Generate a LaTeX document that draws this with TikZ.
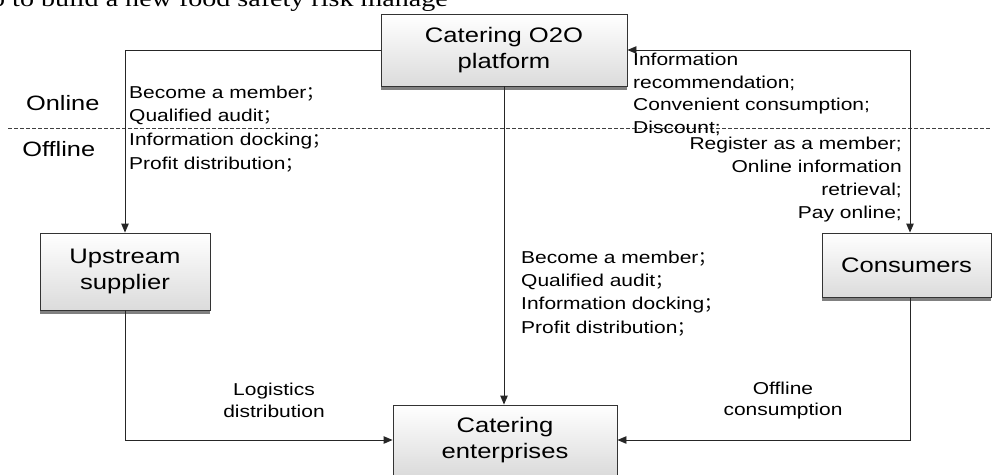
\documentclass[tikz,border=0pt]{standalone}
\usepackage{fontspec}
\setmainfont{Liberation Sans}[FakeStretch=1.22]
\newfontfamily\serifstretch{Liberation Serif}[FakeStretch=1.22]
\newfontfamily\cjkfont{Noto Sans CJK SC}
\usetikzlibrary{arrows.meta,shadows}
\newcommand{\fsemi}{{\cjkfont ；}}
\begin{document}
\begin{tikzpicture}[x=1pt,y=-1pt,
  box/.style={draw=black!80, line width=0.9pt, top color=white, bottom color=black!14,
    align=center, inner sep=0pt, font=\fontsize{21}{25.7}\selectfont,
    drop shadow={shadow xshift=0pt,shadow yshift=-4pt,fill=black!50,opacity=1}},
  conn/.style={draw=black!85, line width=0.9pt},
  tip/.style={-{Triangle[length=9pt,width=7.5pt]}},
  both/.style={{Triangle[length=9pt,width=7.5pt]}-{Triangle[length=9pt,width=7.5pt]}},
  lbl/.style={inner sep=0pt, font=\fontsize{17.2}{23.7}\selectfont},
  zone/.style={inner sep=0pt, anchor=base, font=\fontsize{20.8}{24}\selectfont},
  sep/.style={draw=black!75, line width=0.7pt, dash pattern=on 4pt off 2pt},
]
\useasboundingbox (0,0) rectangle (992,474);
\clip (0,0) rectangle (992,474);

\node[anchor=base west, inner sep=0pt, font=\serifstretch\fontsize{23}{23}\selectfont] (toptext) at (-9,6.7) {p to build a new food safety risk manage};

\coordinate (dl) at (8,128);
\coordinate (dr) at (992,128);
\draw[sep] (dl) -- (dr);

\node[zone] (online) at (62.7,110.7) {Online};
\node[zone] (offline) at (58.7,156.7) {Offline};

\node[box, minimum width=246pt, minimum height=72pt] (plat) at (504,50) {Catering O2O\\platform};
\node[box, minimum width=170pt, minimum height=77pt] (up) at (125,271.5) {Upstream\\supplier};
\node[box, minimum width=169pt, minimum height=64pt] (cons) at (906.5,265) {Consumers};
\node[box, minimum width=224pt, minimum height=70pt] (ent) at (505,440) {Catering\\enterprises};

\draw[conn,tip] (plat.west) -| (up.north);
\draw[conn,both] (plat.east) -| ([xshift=3.5pt]cons.north);
\draw[conn,tip] (plat.south) -- (plat.south |- ent.north);
\draw[conn,tip] (up.south) |- (ent.west);
\draw[conn,tip] ([xshift=3.5pt]cons.south) |- (ent.east);

\node[lbl, anchor=north west, align=left] (lblleft) at (129,85.6)
  {Become a member\fsemi\\Qualified audit\fsemi\\Information docking\fsemi\\Profit distribution\fsemi};
\node[lbl, anchor=north west, align=left, font=\fontsize{17.2}{22.7}\selectfont] (lblrt) at (633,52.7)
  {Information\\recommendation;\\Convenient consumption;\\Discount;};
\node[lbl, anchor=north east, align=right, font=\fontsize{17.2}{23}\selectfont] (lblrb) at (902,136.4)
  {Register as a member;\\Online information\\retrieval;\\Pay online;};
\node[lbl, anchor=north west, align=left, font=\fontsize{17.2}{23.3}\selectfont] (lblmid) at (521,250.6)
  {Become a member\fsemi\\Qualified audit\fsemi\\Information docking\fsemi\\Profit distribution\fsemi};
\node[lbl, anchor=north, align=center, font=\fontsize{17.2}{21.7}\selectfont] (lbllog) at (274,382.7)
  {Logistics\\distribution};
\node[lbl, anchor=north, align=center, font=\fontsize{17.2}{21.2}\selectfont] (lbloff) at (783,381.4)
  {Offline\\consumption};
\end{tikzpicture}
\end{document}
